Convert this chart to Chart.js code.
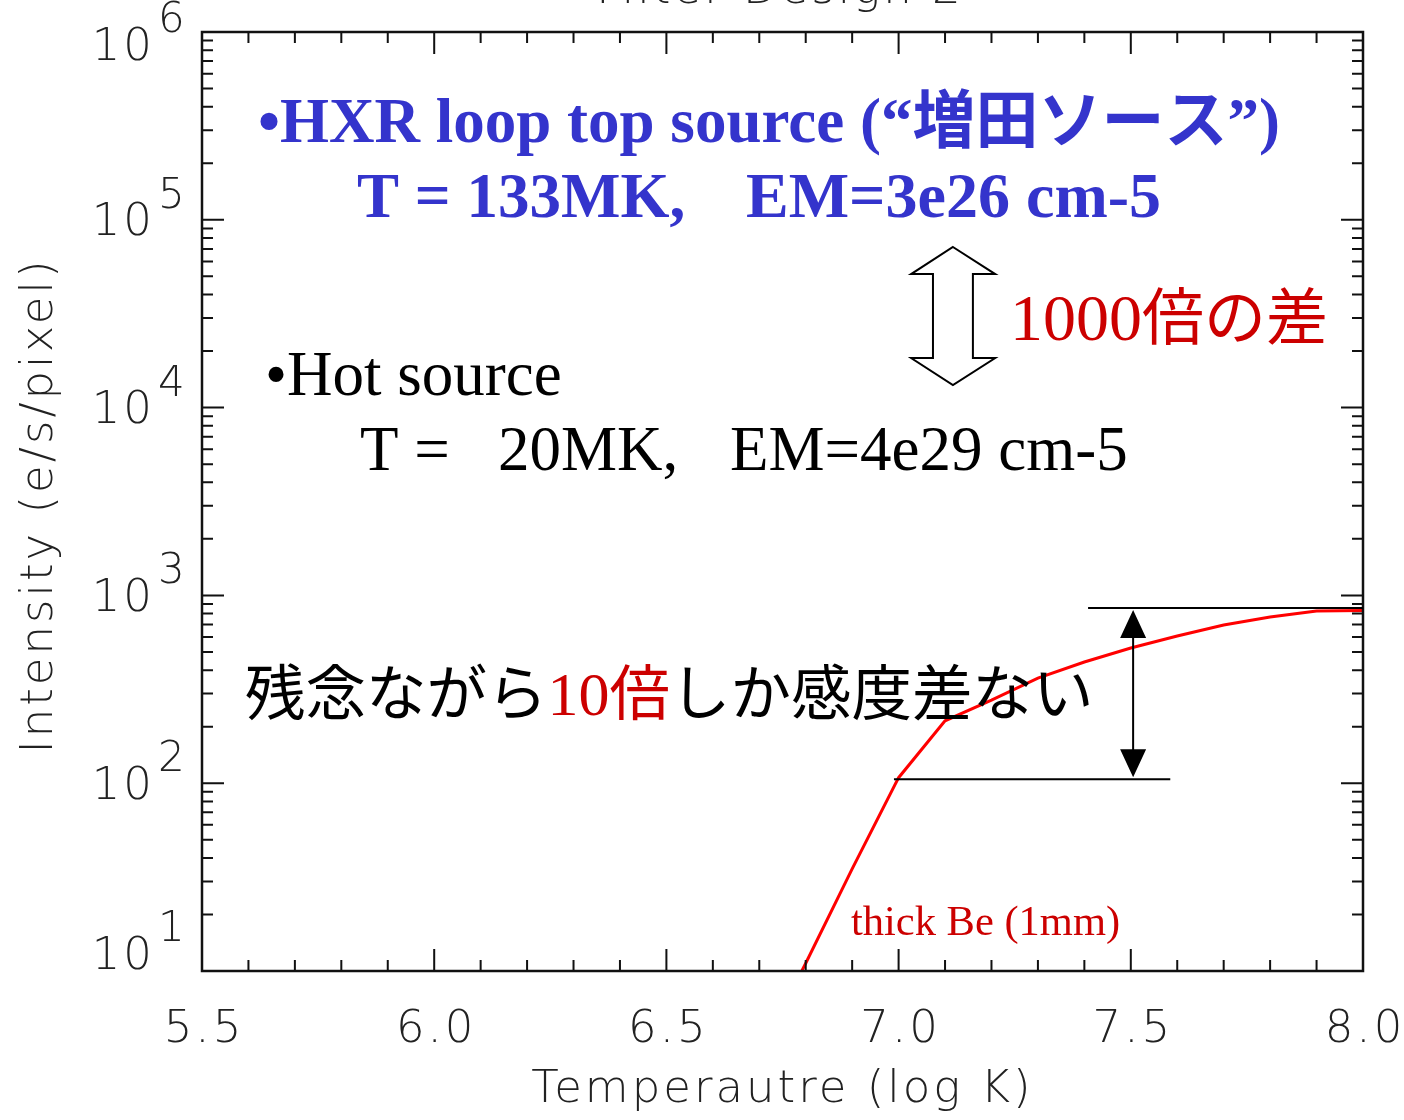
<!DOCTYPE html>
<html>
<head>
<meta charset="utf-8">
<script src="https://cdn.jsdelivr.net/npm/chart.js@4/dist/chart.umd.min.js"></script>
<style>
  html, body { margin: 0; padding: 0; background: #fff; }
  #wrap { width: 1404px; height: 1120px; position: relative; }
</style>
</head>
<body>
<div id="wrap"><canvas id="chart"></canvas></div>
<script>
// log10 temperature (K)
const temperature = [6.7, 6.8, 6.9, 7.0, 7.1, 7.2, 7.3, 7.4, 7.5, 7.6, 7.7, 7.8, 7.9, 8.0];
// thick Be (1mm) response in e/s/pixel
const intensityBe = [3.6, 11, 35, 107, 215, 277, 363, 442, 525, 608, 695, 767, 826, 830];

const xMajorTicks = [5.5, 6.0, 6.5, 7.0, 7.5, 8.0];
const xMinorStep = 0.1;
const yDecades = [1, 2, 3, 4, 5, 6];

const axisFont = '"DejaVu Sans"';
const serif = '"Liberation Serif", "Noto Sans CJK JP"';
const gothic = '"Noto Sans CJK JP", "Noto Sans CJK SC"';

function drawRuns(ctx, x, y, runs) {
  runs.forEach(r => {
    ctx.font = r.font;
    ctx.fillStyle = r.color;
    ctx.fillText(r.text, x, y);
    x += ctx.measureText(r.text).width;
  });
}

const idlAxes = {
  id: 'idlAxes',
  afterDatasetsDraw(chart) {
    const ctx = chart.ctx;
    const a = chart.chartArea;
    const xs = chart.scales.x, ys = chart.scales.y;
    ctx.save();
    ctx.strokeStyle = '#111';
    ctx.fillStyle = '#222';

    // frame
    ctx.lineWidth = 2.5;
    ctx.strokeRect(a.left, a.top, a.right - a.left, a.bottom - a.top);

    // ticks, pointing inwards on all four sides
    ctx.lineWidth = 2;
    ctx.beginPath();
    for (let v = 5.5; v <= 8.0001; v += xMinorStep) {
      const px = xs.getPixelForValue(v);
      const major = xMajorTicks.some(t => Math.abs(t - v) < 1e-6);
      const len = major ? 22 : 11;
      ctx.moveTo(px, a.bottom); ctx.lineTo(px, a.bottom - len);
      ctx.moveTo(px, a.top); ctx.lineTo(px, a.top + len);
    }
    yDecades.forEach(d => {
      for (let m = 1; m <= 9; m++) {
        if (d === 6 && m > 1) break;
        const py = ys.getPixelForValue(m * Math.pow(10, d));
        const len = m === 1 ? 22 : 11;
        ctx.moveTo(a.left, py); ctx.lineTo(a.left + len, py);
        ctx.moveTo(a.right, py); ctx.lineTo(a.right - len, py);
      }
    });
    ctx.stroke();

    ctx.letterSpacing = '3px';

    // x tick labels
    ctx.font = '200 45px ' + axisFont;
    ctx.textAlign = 'center';
    ctx.textBaseline = 'middle';
    xMajorTicks.forEach(t => {
      ctx.fillText(t.toFixed(1), xs.getPixelForValue(t) + 2, 1030);
    });

    // y tick labels: 10 with exponent
    yDecades.forEach(d => {
      const py = ys.getPixelForValue(Math.pow(10, d));
      const cy = Math.min(Math.max(py + 4, 48), 957);
      ctx.font = '200 45px ' + axisFont;
      ctx.textAlign = 'right';
      ctx.fillText('10', 155, cy);
      ctx.font = '200 42px ' + axisFont;
      ctx.textAlign = 'left';
      ctx.fillText(String(d), 158, cy - 27);
    });

    // axis titles
    ctx.font = '200 45px ' + axisFont;
    ctx.textAlign = 'center';
    ctx.fillText('Temperautre (log K)', (a.left + a.right) / 2, 1090);
    ctx.save();
    ctx.translate(40, (a.top + a.bottom) / 2 + 4);
    ctx.rotate(-Math.PI / 2);
    ctx.fillText('Intensity (e/s/pixel)', 0, 0);
    ctx.restore();

    // title, mostly cut off at the top edge
    ctx.textBaseline = 'alphabetic';
    ctx.fillText('Filter Design 2', 780, 3);
    ctx.restore();
  }
};

const notes = {
  id: 'notes',
  afterDatasetsDraw(chart) {
    const ctx = chart.ctx;
    const xs = chart.scales.x, ys = chart.scales.y;
    const px = v => xs.getPixelForValue(v);
    const py = v => ys.getPixelForValue(v);
    ctx.save();
    ctx.textAlign = 'left';
    ctx.textBaseline = 'alphabetic';

    const blue = '#3434cc', red = '#cc0000', black = '#000';
    const bBold = 'bold 63px ' + serif;
    drawRuns(ctx, 258, 142, [{ text: '•HXR loop top source (“増田ソース”)', font: bBold, color: blue }]);
    drawRuns(ctx, 357, 217, [{ text: 'T = 133MK,', font: bBold, color: blue }]);
    drawRuns(ctx, 746, 217, [{ text: 'EM=3e26 cm-5', font: 'bold 64px ' + serif, color: blue }]);

    const reg = '63px ' + serif;
    drawRuns(ctx, 265, 395, [{ text: '•Hot source', font: reg, color: black }]);
    drawRuns(ctx, 360, 470, [{ text: 'T =', font: reg, color: black }]);
    drawRuns(ctx, 498, 470, [{ text: '20MK,', font: reg, color: black }]);
    drawRuns(ctx, 730, 470, [{ text: 'EM=4e29 cm-5', font: reg, color: black }]);

    drawRuns(ctx, 1010, 340, [
      { text: '1000', font: '66px ' + serif, color: red },
      { text: '倍の差', font: '62px ' + gothic, color: red }
    ]);

    drawRuns(ctx, 245, 715, [
      { text: '残念ながら', font: '60.5px ' + gothic, color: black },
      { text: '10', font: '62px ' + serif, color: red },
      { text: '倍', font: '60.5px ' + gothic, color: red },
      { text: 'しか感度差ない', font: '60.5px ' + gothic, color: black }
    ]);

    drawRuns(ctx, 851, 935, [{ text: 'thick Be (1mm)', font: '42.5px ' + serif, color: red }]);

    // bracket lines and black double arrow
    ctx.strokeStyle = '#000';
    ctx.fillStyle = '#000';
    ctx.lineWidth = 2;
    const topY = py(857), botY = py(105), ax = px(7.505);
    ctx.beginPath();
    ctx.moveTo(px(7.408), topY); ctx.lineTo(px(8.0), topY);
    ctx.moveTo(px(6.99), botY); ctx.lineTo(px(7.585), botY);
    ctx.moveTo(ax, topY + 20); ctx.lineTo(ax, botY - 20);
    ctx.stroke();
    ctx.beginPath();
    ctx.moveTo(ax, topY + 2); ctx.lineTo(ax - 13, topY + 30); ctx.lineTo(ax + 13, topY + 30); ctx.closePath();
    ctx.moveTo(ax, botY - 2); ctx.lineTo(ax - 13, botY - 30); ctx.lineTo(ax + 13, botY - 30); ctx.closePath();
    ctx.fill();

    // hollow double arrow
    const x0 = px(7.027), x1 = px(7.074), xm = px(7.117), x2 = px(7.160), x3 = px(7.208);
    const yt = py(Math.pow(10, 4.855)), yb1 = py(Math.pow(10, 4.711));
    const yb2 = py(Math.pow(10, 4.264)), yB = py(Math.pow(10, 4.120));
    ctx.beginPath();
    ctx.moveTo(xm, yt); ctx.lineTo(x3, yb1); ctx.lineTo(x2, yb1); ctx.lineTo(x2, yb2);
    ctx.lineTo(x3, yb2); ctx.lineTo(xm, yB); ctx.lineTo(x0, yb2); ctx.lineTo(x1, yb2);
    ctx.lineTo(x1, yb1); ctx.lineTo(x0, yb1); ctx.closePath();
    ctx.fillStyle = '#fff';
    ctx.fill();
    ctx.stroke();
    ctx.restore();
  }
};

new Chart(document.getElementById('chart'), {
  type: 'line',
  data: {
    datasets: [{
      label: 'thick Be (1mm)',
      data: temperature.map((t, i) => ({ x: t, y: intensityBe[i] })),
      borderColor: '#ff0000',
      borderWidth: 3,
      pointRadius: 0,
      tension: 0,
      fill: false
    }]
  },
  options: {
    responsive: true,
    maintainAspectRatio: false,
    animation: false,
    layout: { padding: { left: 202, right: 41, top: 32, bottom: 149 } },
    scales: {
      x: { type: 'linear', min: 5.5, max: 8.0, display: false },
      y: { type: 'logarithmic', min: 10, max: 1e6, display: false }
    },
    plugins: {
      legend: { display: false },
      tooltip: { enabled: false }
    }
  },
  plugins: [idlAxes, notes]
});
</script>
</body>
</html>
